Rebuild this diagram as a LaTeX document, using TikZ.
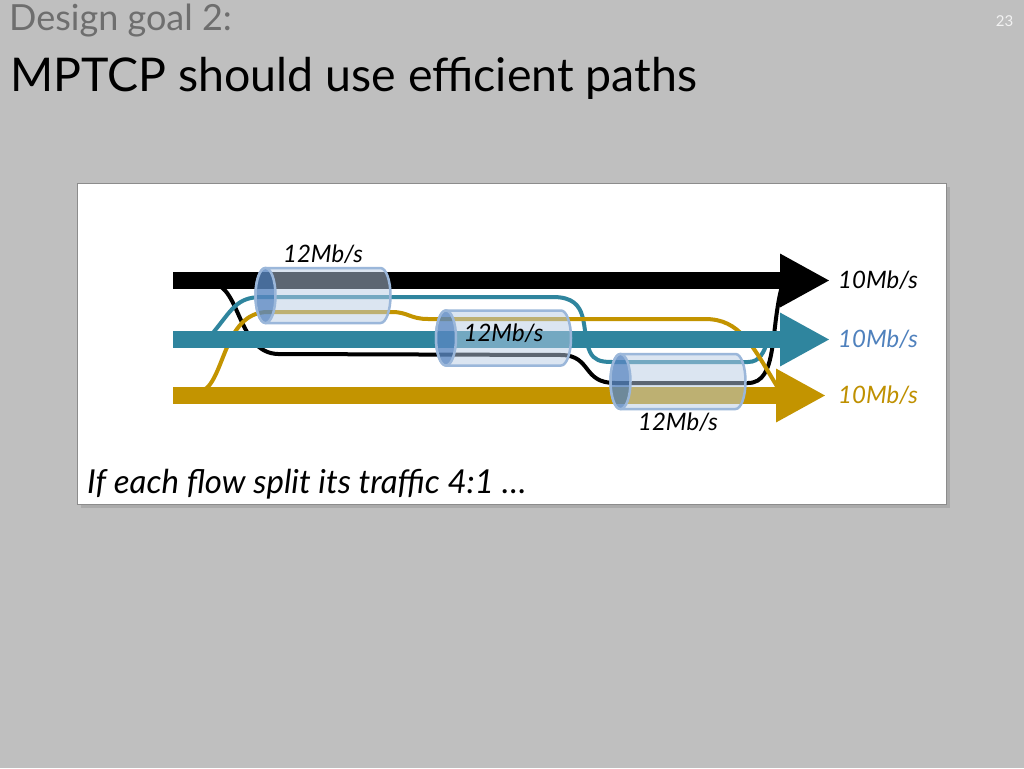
\documentclass[tikz,border=0pt]{standalone}
\usepackage{fontspec}
\setmainfont{Lato}
\usetikzlibrary{arrows.meta,positioning,shadows}

\definecolor{slidebg}{HTML}{BFBFBF}
\definecolor{goalgray}{HTML}{6E6E6E}
\definecolor{flowteal}{HTML}{2F859E}
\definecolor{flowgold}{HTML}{C39400}
\definecolor{rateblue}{HTML}{4F81BD}
\definecolor{rategold}{HTML}{BF9000}
\definecolor{pipeline}{HTML}{9BB7DA}
\definecolor{pipebody}{HTML}{B8CCE4}
\definecolor{pipeend}{HTML}{3A70B5}

\begin{document}
\begin{tikzpicture}[
  x=1pt, y=-1pt,
  every node/.style={inner sep=0pt},
  panel/.style={draw=black!45, line width=1pt, fill=white, minimum width=869pt, minimum height=321pt,
    drop shadow={opacity=0.3, shadow xshift=4pt, shadow yshift=-4pt}},
  bar/.style={line width=17pt, -{Triangle[length=50pt, width=50pt]}},
  subflow/.style={line width=4pt, line cap=round},
  pipeedge/.style={draw=pipeline, line width=2.5pt},
  pipe/.pic={
    \filldraw[pipeedge, fill=pipebody, fill opacity=0.5] (-57.5,-27.5) -- (57.5,-27.5)
      arc[start angle=90, end angle=-90, x radius=10pt, y radius=27.5pt] -- (-57.5,27.5)
      arc[start angle=270, end angle=90, x radius=10pt, y radius=27.5pt] -- cycle;
    \filldraw[pipeedge, fill=pipeend, fill opacity=0.6] (-57.5,0) ellipse[x radius=10pt, y radius=27.5pt];
    \coordinate (-mid) at (0,0);
    \coordinate (-top) at (0,-27.5);
    \coordinate (-bottom) at (0,27.5);
  },
  rate/.style={font=\fontsize{24}{26}\selectfont\itshape, inner sep=1pt}
]
\useasboundingbox (0,0) rectangle (1024,768);
\fill[slidebg] (0,0) rectangle (1024,768);

\node[anchor=base west, text=goalgray, font=\fontsize{36}{36}\selectfont] (goal) at (9,31) {Design goal 2:};
\node[anchor=base west, font=\fontsize{46.5}{46.5}\selectfont] (title) at (10,91) {MPTCP should use efficient paths};
\node[text=black!5, font=\fontsize{15}{15}\selectfont] (pageno) at (1004.5,21) {23};

\node[panel] (frame) at (511.5,343.5) {};

% end points of the three flows
\coordinate (blk0) at (173,280.5);
\coordinate (blk1) at (830,280.5);
\coordinate (teal0) at (173,339.5);
\coordinate (teal1) at (830,339.5);
\coordinate (gold0) at (173,395.5);
\coordinate (gold1) at (826,395.5);

% subflows
\draw[subflow, black] (213,284) .. controls (240,286) and (238,353) .. (278,354) -- (562,355)
  .. controls (592,356) and (582,383) .. (615,383) -- (748,383) .. controls (778,383) and (770,330) .. (782,286);
\draw[subflow, flowteal] (212,334) .. controls (232,310) and (236,297) .. (262,297) -- (553,297)
  .. controls (592,297) and (580,330) .. (590,352) .. controls (594,360) and (600,362) .. (612,362)
  -- (748,362) .. controls (760,362) and (764,352) .. (768,340);
\draw[subflow, flowgold] (200,392) .. controls (225,385) and (222,312) .. (268,312) -- (392,312)
  .. controls (408,312) and (410,319) .. (428,319) -- (705,319) .. controls (740,319) and (752,345) .. (778,388);

\draw[bar, black] (blk0) -- (blk1);
\draw[bar, flowteal] (teal0) -- (teal1);
\draw[bar, flowgold] (gold0) -- (gold1);

\pic (pipeA) at (323,295.5) {pipe};
\pic (pipeB) at (503.5,338) {pipe};
\pic (pipeC) at (678,381.5) {pipe};

\node[rate, above=3pt of pipeA-top] (rateA) {12Mb/s};
\node[rate] (rateB) at ([yshift=5pt]pipeB-mid) {12Mb/s};
\node[rate, below=3pt of pipeC-bottom] (rateC) {12Mb/s};

\node[rate, right=7pt of blk1] (outblk) {10Mb/s};
\node[rate, text=rateblue, right=7pt of teal1] (outteal) {10Mb/s};
\node[rate, text=rategold, right=11pt of gold1] (outgold) {10Mb/s};

\node[anchor=base west, font=\fontsize{33}{33}\selectfont\itshape] (note) at (87,493) {If each flow split its traffic 4:1 \dots};
\end{tikzpicture}
\end{document}
